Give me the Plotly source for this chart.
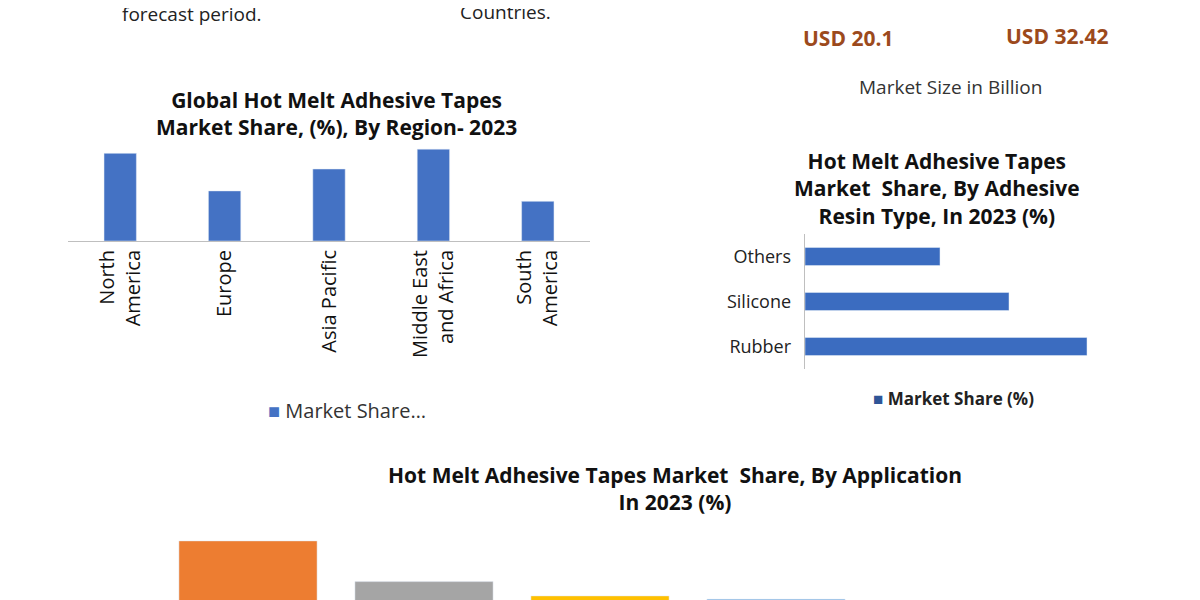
import plotly.graph_objects as go

# Data ------------------------------------------------------------------
regions = ['North<br>America', 'Europe', 'Asia Pacific', 'Middle East<br>and Africa', 'South<br>America']
region_share = [84, 48, 69, 88, 38]

resin_types = ['Rubber', 'Silicone', 'Others']
resin_share = [282, 204, 135]

applications = ['A1', 'A2', 'A3', 'A4', 'A5']
application_share = [89, 52, 39, 36, 33]
application_colors = ['#ed7d31', '#a5a5a5', '#ffc000', '#5b9bd5', '#70ad47']

W, H = 1200, 600
OFF = 8  # page margin of the browser
def px(x): return (x - OFF) / W
def py(y): return 1 - (y - OFF) / H

fig = go.Figure()

fig.add_trace(go.Bar(x=regions, y=region_share, marker_color='#4472c4', width=0.31,
                     xaxis='x', yaxis='y', showlegend=False))
fig.add_trace(go.Bar(x=resin_share, y=resin_types, orientation='h', marker_color='#3b6cc0',
                     width=0.4, xaxis='x2', yaxis='y2', showlegend=False))
fig.add_trace(go.Bar(x=applications, y=application_share, marker_color=application_colors,
                     width=0.785, xaxis='x3', yaxis='y3', showlegend=False))

font = 'Open Sans, Noto Sans, sans-serif'
fig.update_layout(
    width=W, height=H, margin=dict(l=0, r=0, t=0, b=0),
    paper_bgcolor='white', plot_bgcolor='white',
    font=dict(family=font, color='#222'),
    xaxis=dict(domain=[px(68), px(590)], anchor='y', tickangle=-90,
               tickfont=dict(size=20, color='#111'), showline=True, linecolor='#bfbfbf',
               showgrid=False, ticks=''),
    yaxis=dict(domain=[py(241), py(145)], range=[0, 92], visible=False),
    xaxis2=dict(domain=[px(805), px(1110)], anchor='y2', range=[0, 305], visible=False),
    yaxis2=dict(domain=[py(369), py(234)], anchor='x2', showline=True, linecolor='#bfbfbf',
                tickfont=dict(size=18, color='#222'), showgrid=False, ticks='', ticksuffix='  '),
    xaxis3=dict(domain=[px(160), px(1040)], anchor='y3', visible=False),
    yaxis3=dict(domain=[0, py(520)], anchor='x3', range=[28, 108], visible=False),
)

def note(x, y, text, size, color='#222', bold=False):
    if bold:
        text = '<b>' + text + '</b>'
    fig.add_annotation(x=px(x), y=py(y), xref='paper', yref='paper', text=text,
                       showarrow=False, font=dict(size=size, color=color, family=font),
                       xanchor='center', yanchor='middle')

note(192, 14, 'forecast period.', 19, '#222')
note(505, 12, 'Countries.', 19, '#222')
note(848, 38, 'USD 20.1', 21, '#9c4a1c', bold=True)
note(1057, 36, 'USD 32.42', 21, '#9c4a1c', bold=True)
note(950, 87, 'Market Size in Billion', 19, '#333')
note(336, 113, 'Global Hot Melt Adhesive Tapes<br>Market Share, (%), By Region- 2023', 21, '#111', bold=True)
note(347, 410, "<span style='color:#4472c4'>■</span> Market Share…", 20, '#333')
note(937, 188, 'Hot Melt Adhesive Tapes<br>Market  Share, By Adhesive<br>Resin Type, In 2023 (%)', 21, '#111', bold=True)
note(953, 398, "<span style='color:#2f5597'>■</span> <b>Market Share (%)</b>", 17, '#222')
note(675, 488, 'Hot Melt Adhesive Tapes Market  Share, By Application<br>In 2023 (%)', 21, '#111', bold=True)

# frame and logo circle
fig.add_shape(type='line', xref='paper', yref='paper', x0=px(3), x1=px(3), y0=0, y1=1.05,
              line=dict(color='#2c3e5c', width=3))
fig.add_shape(type='line', xref='paper', yref='paper', x0=px(1196), x1=px(1196), y0=0, y1=1.05,
              line=dict(color='#2c3e5c', width=3))
fig.add_shape(type='circle', xref='paper', yref='paper', x0=px(18), x1=px(78), y0=py(8), y1=py(-52),
              fillcolor='#263f66', line=dict(width=0))

fig.write_html('out.html')
